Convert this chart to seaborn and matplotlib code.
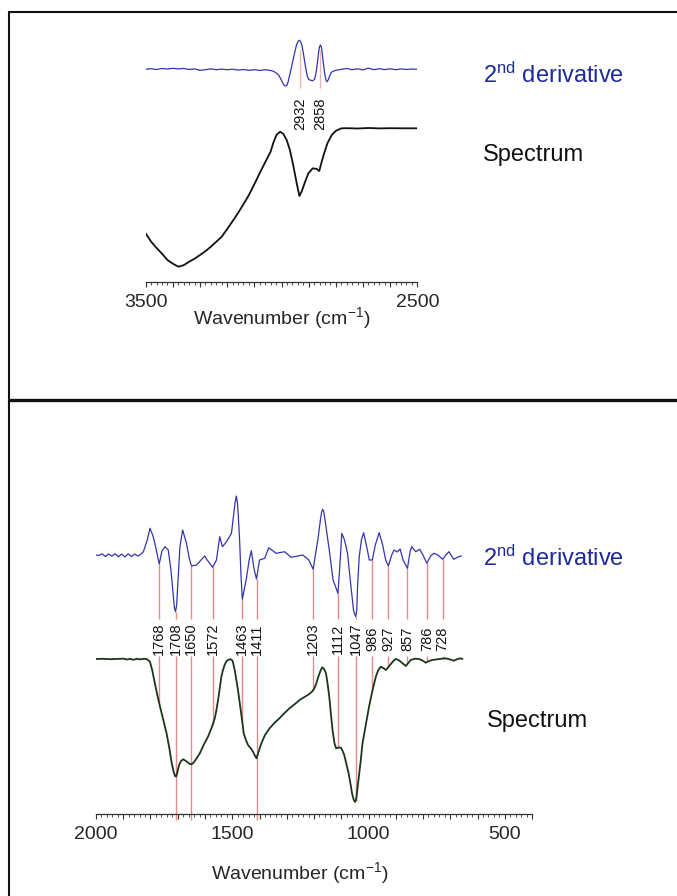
import numpy as np
import pandas as pd
import matplotlib
matplotlib.use("Agg")
import matplotlib.pyplot as plt
from matplotlib.lines import Line2D
from matplotlib.ticker import MultipleLocator, FuncFormatter
import seaborn as sns

sns.set_style("white")
plt.rcParams['font.family'] = ['Liberation Sans', 'DejaVu Sans']
plt.rcParams['mathtext.fontset'] = 'custom'
plt.rcParams['mathtext.rm'] = 'Liberation Sans'
plt.rcParams['mathtext.it'] = 'Liberation Sans:italic'
plt.rcParams['mathtext.bf'] = 'Liberation Sans:bold'

# ---------------- data: upper panel (3500-2500 cm-1) ----------------
top_spec_wn = [3500, 3480, 3460, 3440, 3420, 3400, 3380, 3360, 3340, 3320, 3300, 3280, 3260, 3240,
               3220, 3200, 3180, 3160, 3140, 3120, 3100, 3080, 3060, 3040, 3030, 3018, 3005, 2993,
               2981, 2969, 2957, 2944, 2934, 2926, 2913, 2901, 2885, 2870, 2861, 2852, 2843, 2831,
               2815, 2799, 2779, 2760, 2720, 2680, 2640, 2600, 2560, 2500]
top_spec_val = [0.484, 0.40, 0.337, 0.28, 0.217, 0.18, 0.15, 0.165, 0.20, 0.23, 0.267, 0.305, 0.35, 0.40,
                0.45, 0.527, 0.605, 0.687, 0.775, 0.867, 0.975, 1.087, 1.195, 1.30, 1.39, 1.47, 1.50, 1.477,
                1.417, 1.317, 1.167, 0.984, 0.857, 0.90, 1.00, 1.084, 1.134, 1.127, 1.107, 1.20, 1.284,
                1.384, 1.467, 1.51, 1.534, 1.535, 1.532, 1.537, 1.533, 1.535, 1.534, 1.534]

top_der_wn = [3500, 3480, 3460, 3440, 3420, 3400, 3380, 3360, 3340, 3320, 3300, 3280, 3260, 3240, 3220,
              3200, 3180, 3160, 3140, 3120, 3100, 3080, 3060, 3040, 3030, 3020, 3010, 3000, 2993, 2987,
              2980, 2975, 2970, 2965, 2960, 2953, 2946, 2940, 2935, 2930, 2925, 2920, 2915, 2910, 2905,
              2900, 2893, 2885, 2878, 2873, 2868, 2864, 2860, 2857, 2853, 2849, 2845, 2840, 2836, 2832,
              2827, 2822, 2816, 2810, 2800, 2780, 2760, 2740, 2720, 2700, 2681, 2660, 2640, 2620, 2600,
              2580, 2560, 2540, 2520, 2500]
top_der_val = [0.0, 0.006, -0.002, 0.008, 0.003, 0.01, 0.004, 0.009, -0.002, 0.004, -0.01, -0.004, 0.004,
               -0.004, 0.002, -0.004, 0.001, -0.008, -0.002, -0.01, -0.004, -0.012, -0.004, -0.012, -0.02,
               -0.035, -0.06, -0.11, -0.15, -0.167, -0.16, -0.12, -0.06, 0.0, 0.06, 0.15, 0.23, 0.275, 0.29,
               0.28, 0.24, 0.17, 0.08, 0.0, -0.07, -0.1, -0.11, -0.114, -0.1, -0.04, 0.06, 0.16, 0.225,
               0.243, 0.22, 0.14, 0.04, -0.06, -0.11, -0.124, -0.1, -0.06, -0.03, -0.02, -0.01, 0.0, 0.008,
               -0.004, 0.005, -0.006, 0.012, -0.004, 0.006, -0.003, 0.005, -0.004, 0.004, -0.002, 0.003, 0.0]
top_peaks = [2932, 2858]

# ---------------- data: lower panel (2000-400 cm-1) ----------------
bot_der_wn = [2000, 1990, 1978, 1966, 1954, 1942, 1930, 1918, 1906, 1894, 1882, 1870, 1858, 1846, 1835,
              1826, 1812, 1802, 1792, 1784, 1775, 1768, 1758, 1747, 1735, 1725, 1715, 1712, 1708, 1704,
              1700, 1692, 1682, 1668, 1658, 1650, 1631, 1601, 1592, 1572, 1558, 1546, 1536, 1521, 1503,
              1495, 1490, 1485, 1481, 1478, 1473, 1468, 1463, 1448, 1438, 1430, 1420, 1411, 1400, 1381,
              1366, 1339, 1308, 1284, 1241, 1219, 1203, 1195, 1186, 1176, 1172, 1168, 1164, 1160, 1144,
              1130, 1112, 1105, 1098, 1088, 1077, 1065, 1055, 1051, 1047, 1043, 1040, 1034, 1026, 1018,
              1008, 997, 986, 975, 961, 948, 937, 927, 915, 906, 895, 884, 873, 857, 847, 841, 827, 812,
              800, 786, 772, 760, 745, 728, 716, 705, 687, 672, 659]
bot_der_val = [0.0, -0.005, 0.012, -0.015, 0.01, -0.012, 0.012, -0.018, 0.01, -0.02, 0.012, -0.015, 0.01,
               -0.01, 0.01, 0.033, 0.15, 0.267, 0.2, 0.117, 0.0, -0.09, 0.04, 0.083, 0.05, -0.15, -0.45,
               -0.53, -0.567, -0.5, -0.3, 0.083, 0.25, 0.117, -0.03, -0.11, -0.10, -0.01, -0.05, -0.123,
               -0.05, 0.183, 0.083, 0.133, 0.217, 0.4, 0.52, 0.59, 0.52, 0.40, 0.15, -0.2, -0.443, -0.233,
               -0.05, 0.043, -0.14, -0.24, -0.05, -0.033, 0.073, 0.017, 0.033, -0.023, 0.0, -0.05, -0.143,
               0.0, 0.15, 0.36, 0.43, 0.457, 0.43, 0.36, 0.05, -0.25, -0.383, -0.1, 0.217, 0.15, 0.017,
               -0.3, -0.55, -0.59, -0.617, -0.55, -0.3, -0.017, 0.15, 0.223, 0.1, -0.05, -0.05, 0.1, 0.223,
               0.1, -0.05, -0.11, 0.0, 0.05, 0.03, 0.06, -0.05, -0.133, 0.04, 0.083, 0.033, 0.057, 0.0,
               -0.083, -0.01, 0.017, 0.0, -0.043, 0.0, 0.033, -0.043, -0.02, -0.01]

bot_spec_wn = [2000, 1975, 1950, 1925, 1900, 1885, 1875, 1862, 1850, 1838, 1826, 1814, 1802, 1793, 1784,
               1775, 1765, 1753, 1741, 1731, 1722, 1715, 1710, 1706, 1702, 1695, 1688, 1680, 1670, 1662,
               1655, 1649, 1640, 1630, 1619, 1605, 1589, 1576, 1564, 1558, 1552, 1546, 1540, 1534, 1528,
               1522, 1516, 1506, 1499, 1495, 1491, 1485, 1479, 1473, 1467, 1462, 1458, 1450, 1442, 1433,
               1424, 1418, 1411, 1405, 1399, 1393, 1380, 1363, 1345, 1327, 1308, 1290, 1270, 1253, 1235,
               1217, 1205, 1199, 1192, 1186, 1178, 1170, 1163, 1156, 1150, 1144, 1138, 1132, 1125, 1119,
               1110, 1101, 1095, 1089, 1081, 1073, 1066, 1060, 1054, 1049, 1045, 1041, 1036, 1029, 1022,
               1010, 998, 986, 973, 964, 955, 946, 936, 927, 918, 909, 900, 890, 882, 872, 863, 854, 845,
               830, 815, 802, 790, 778, 766, 740, 717, 700, 687, 675, 662, 655]
bot_spec_val = [1.55, 1.552, 1.548, 1.551, 1.553, 1.545, 1.552, 1.542, 1.553, 1.546, 1.552, 1.55, 1.523,
                1.43, 1.307, 1.19, 1.073, 0.94, 0.807, 0.66, 0.507, 0.42, 0.38, 0.375, 0.41, 0.49, 0.53,
                0.547, 0.53, 0.513, 0.50, 0.497, 0.52, 0.56, 0.607, 0.69, 0.773, 0.86, 0.957, 1.04, 1.14,
                1.26, 1.373, 1.44, 1.49, 1.525, 1.54, 1.548, 1.533, 1.49, 1.44, 1.34, 1.24, 1.12, 1.007,
                0.90, 0.807, 0.74, 0.69, 0.66, 0.623, 0.59, 0.557, 0.61, 0.66, 0.707, 0.79, 0.857, 0.91,
                0.957, 1.01, 1.057, 1.10, 1.14, 1.17, 1.20, 1.23, 1.257, 1.30, 1.357, 1.42, 1.467, 1.45,
                1.407, 1.30, 1.173, 1.00, 0.84, 0.71, 0.657, 0.665, 0.663, 0.63, 0.59, 0.50, 0.407, 0.30,
                0.20, 0.14, 0.12, 0.15, 0.24, 0.36, 0.52, 0.707, 0.89, 1.073, 1.23, 1.373, 1.44, 1.473,
                1.46, 1.44, 1.47, 1.50, 1.53, 1.55, 1.54, 1.523, 1.50, 1.48, 1.51, 1.54, 1.553, 1.55,
                1.535, 1.513, 1.53, 1.54, 1.55, 1.557, 1.545, 1.533, 1.548, 1.557, 1.55]
bot_peaks = [1768, 1708, 1650, 1572, 1463, 1411, 1203, 1112, 1047, 986, 927, 857, 786, 728]
bot_long_peaks = [1708, 1650, 1411]

# ---------------- styling ----------------
W, H = 677, 896
DER_COLOR = "#3434ad"
TXT_BLUE = "#1f2a9c"
SPEC_TOP = "#111111"
SPEC_BOT = "#1b361b"
PK_TOP = "#f0b4b4"
PK_BOT = "#e98a8a"
XLABEL = "Wavenumber (cm$^{\\mathregular{-1}}$)"

fig = plt.figure(figsize=(W / 100, H / 100), dpi=100)
fig.patch.set_facecolor("white")


def fx(px):
    return px / W


def fy(py):
    return 1 - py / H


def style_axis(ax, label_test, labelpad):
    for s in ["left", "top", "right"]:
        ax.spines[s].set_visible(False)
    ax.spines["bottom"].set_color("#333333")
    ax.spines["bottom"].set_linewidth(0.9)
    ax.set_yticks([])
    ax.set_ylabel("")
    ax.xaxis.set_major_locator(MultipleLocator(100))
    ax.xaxis.set_minor_locator(MultipleLocator(20))
    ax.xaxis.set_major_formatter(FuncFormatter(
        lambda v, p: f"{int(round(v))}" if label_test(int(round(v))) else ""))
    ax.tick_params(axis="x", which="major", direction="out", length=3.8, width=0.8,
                   color="#333333", labelsize=14, pad=5, bottom=True)
    ax.tick_params(axis="x", which="minor", direction="out", length=2.0, width=0.6,
                   color="#333333", bottom=True)
    ax.set_xlabel(XLABEL, fontsize=14, labelpad=labelpad)
    ax.set_facecolor("none")


# ---------- upper panel ----------
ax1 = fig.add_axes([fx(145.7), fy(281.7), fx(417.3) - fx(145.7), fy(20) - fy(281.7)])
TOP_DER_OFF = 2.124
df_ts = pd.DataFrame({"wn": top_spec_wn, "val": top_spec_val})
df_td = pd.DataFrame({"wn": top_der_wn, "val": np.array(top_der_val) + TOP_DER_OFF})
sns.lineplot(data=df_td, x="wn", y="val", ax=ax1, sort=False, color=DER_COLOR, lw=0.9)
sns.lineplot(data=df_ts, x="wn", y="val", ax=ax1, sort=False, color=SPEC_TOP, lw=1.3)
ax1.set_xlim(3500, 2500)
ax1.set_ylim(0, 2.617)
ax1.vlines(top_peaks, 1.937, 2.317, color=PK_TOP, lw=1.0, zorder=1)
for p in top_peaks:
    ax1.text(p, 1.677, str(p), rotation=90, ha="center", va="center", fontsize=10.5, color="#111111")
style_axis(ax1, lambda v: v in (3500, 2500), -4)

# ---------- lower panel ----------
ax2 = fig.add_axes([fx(96), fy(814), fx(532) - fx(96), fy(470) - fy(814)])
BOT_DER_OFF = 2.59
df_bs = pd.DataFrame({"wn": bot_spec_wn, "val": bot_spec_val})
df_bd = pd.DataFrame({"wn": bot_der_wn, "val": np.array(bot_der_val) + BOT_DER_OFF})
sns.lineplot(data=df_bd, x="wn", y="val", ax=ax2, sort=False, color=DER_COLOR, lw=0.9)
sns.lineplot(data=df_bs, x="wn", y="val", ax=ax2, sort=False, color=SPEC_BOT, lw=1.3)
ax2.set_xlim(2000, 400)
ax2.set_ylim(0, 3.44)

der_x = np.array(bot_der_wn[::-1], dtype=float)
der_y = np.array(bot_der_val[::-1]) + BOT_DER_OFF
spec_x = np.array(bot_spec_wn[::-1], dtype=float)
spec_y = np.array(bot_spec_val[::-1])
for p in bot_peaks:
    y_top = np.interp(p, der_x, der_y)
    ax2.vlines(p, 1.95, y_top, color=PK_BOT, lw=1.0, zorder=1)
    y_low = -0.06 if p in bot_long_peaks else np.interp(p, spec_x, spec_y)
    ax2.vlines(p, y_low, 1.58, color=PK_BOT, lw=1.0, zorder=1, clip_on=False)
    ax2.text(p, 1.75, str(p), rotation=90, ha="center", va="center", fontsize=10.5, color="#111111")
style_axis(ax2, lambda v: v % 500 == 0, 12)
ax2.xaxis.label.set_x(0.468)

# ---------- captions ----------
fig.text(fx(483), fy(83), "2$^{\\mathregular{nd}}$ derivative", fontsize=17, color=TXT_BLUE,
         ha="left", va="baseline")
fig.text(fx(483), fy(161), "Spectrum", fontsize=17, color="#111111", ha="left", va="baseline")
fig.text(fx(483), fy(565.7), "2$^{\\mathregular{nd}}$ derivative", fontsize=17, color=TXT_BLUE,
         ha="left", va="baseline")
fig.text(fx(487), fy(726.7), "Spectrum", fontsize=17, color="#111111", ha="left", va="baseline")

# ---------- panel frame ----------
fig.add_artist(Line2D([fx(8.5), fx(8.5)], [0, fy(11.7)], transform=fig.transFigure,
                      color="#111111", lw=1.5))
fig.add_artist(Line2D([fx(8.5), 1], [fy(11.7), fy(11.7)], transform=fig.transFigure,
                      color="#111111", lw=1.5))
fig.add_artist(Line2D([fx(8.5), 1], [fy(400), fy(400)], transform=fig.transFigure,
                      color="#111111", lw=2.4))

fig.savefig("out.png", dpi=100, facecolor="white")
